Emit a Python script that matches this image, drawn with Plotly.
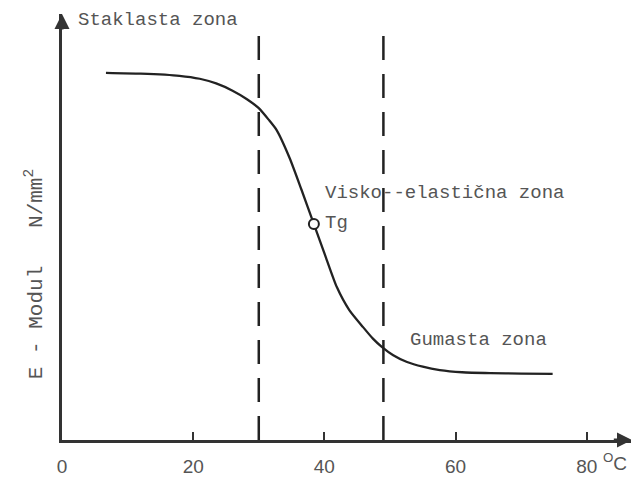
import plotly.graph_objects as go

# Curve: E-modulus vs temperature
temp = [6.7, 12.0, 17.9, 21.0, 23.5, 26.0, 28.2, 30.0, 31.5, 32.7, 34.7, 36.5, 38.4, 40.2, 41.9, 43.8, 45.9, 47.4, 48.8, 50.5, 52.6, 55.0, 57.6, 61.0, 65.3, 70.0, 74.8]
modul = [86.2, 86.0, 85.5, 84.8, 83.7, 82.0, 80.0, 77.9, 75.2, 72.8, 66.2, 58.8, 50.7, 43.0, 35.9, 30.5, 26.5, 23.8, 21.8, 19.9, 18.3, 17.2, 16.4, 15.9, 15.7, 15.6, 15.5]

tg_temp = [38.4]
tg_modul = [50.7]

zone_bounds = [30, 49]
zone_top = [95.0, 96.2]

tick_vals = [0, 20, 40, 60, 80]
tick_text = ["0", "20", "40", "60", "80"]

labels = [
    ("Staklasta zona", 2.2, 98.6),
    ("Visko--elastična zona", 39.8, 58.0),
    ("Tg", 39.8, 51.0),
    ("Gumasta zona", 52.8, 23.5),
]

X_MAX = 86.9
Y_MAX = 100
ink = "#222222"
txt = "#555555"
mono = "Liberation Mono, DejaVu Sans Mono, monospace"

fig = go.Figure()

for xb, yt in zip(zone_bounds, zone_top):
    fig.add_trace(go.Scatter(
        x=[xb, xb], y=[0, yt], mode="lines",
        line=dict(color=ink, width=2.5, dash="24px,14px"),
        hoverinfo="skip", showlegend=False))

fig.add_trace(go.Scatter(
    x=temp, y=modul, mode="lines",
    line=dict(color=ink, width=2.3, shape="spline", smoothing=0.6),
    showlegend=False))

fig.add_trace(go.Scatter(
    x=tg_temp, y=tg_modul, mode="markers",
    marker=dict(size=10, color="white", line=dict(color=ink, width=2)),
    showlegend=False))

for t, x, y in labels:
    fig.add_annotation(x=x, y=y, text=t, showarrow=False, xanchor="left",
                       yanchor="middle", font=dict(family=mono, size=19, color=txt))

# arrow heads on axes
fig.add_annotation(x=X_MAX, y=0, ax=X_MAX - 3, ay=0, axref="x", ayref="y",
                   xref="x", yref="y", showarrow=True, arrowhead=2,
                   arrowsize=1, arrowwidth=3, arrowcolor="#333333", text="")
fig.add_annotation(x=0, y=Y_MAX, ax=0, ay=Y_MAX - 4, axref="x", ayref="y",
                   xref="x", yref="y", showarrow=True, arrowhead=2,
                   arrowsize=1, arrowwidth=3, arrowcolor="#333333", text="")

# degree unit next to 80
fig.add_annotation(x=80, y=0, xref="x", yref="y", text="<sup>O</sup>C",
                   showarrow=False, xanchor="left", yanchor="top",
                   xshift=14, yshift=-8,
                   font=dict(family="Liberation Sans, Arial, sans-serif", size=19, color=txt))

# y-axis title
fig.add_annotation(x=-0.074, y=0.39, xref="paper", yref="paper",
                   text="E - Modul&nbsp;&nbsp;&nbsp;N/mm<sup>2</sup>",
                   textangle=-90, showarrow=False,
                   font=dict(family="Liberation Mono, monospace", size=21, color=txt))

fig.update_xaxes(range=[0, X_MAX], showgrid=False, zeroline=False, automargin=False,
                 showline=True, linecolor="#333333", linewidth=3,
                 tickvals=tick_vals, ticktext=tick_text,
                 ticks="inside", ticklen=8, tickwidth=2, tickcolor="#333333",
                 ticklabelstandoff=7,
                 tickfont=dict(family="Liberation Sans, Arial, sans-serif", size=19, color=txt))
fig.update_yaxes(range=[0, Y_MAX], showgrid=False, zeroline=False, automargin=False,
                 showline=True, linecolor="#333333", linewidth=3,
                 showticklabels=False, ticks="")

fig.update_layout(
    width=631, height=479,
    margin=dict(l=54, r=7, t=6, b=47, autoexpand=False),
    plot_bgcolor="white", paper_bgcolor="white",
)

fig.write_html("out.html")
